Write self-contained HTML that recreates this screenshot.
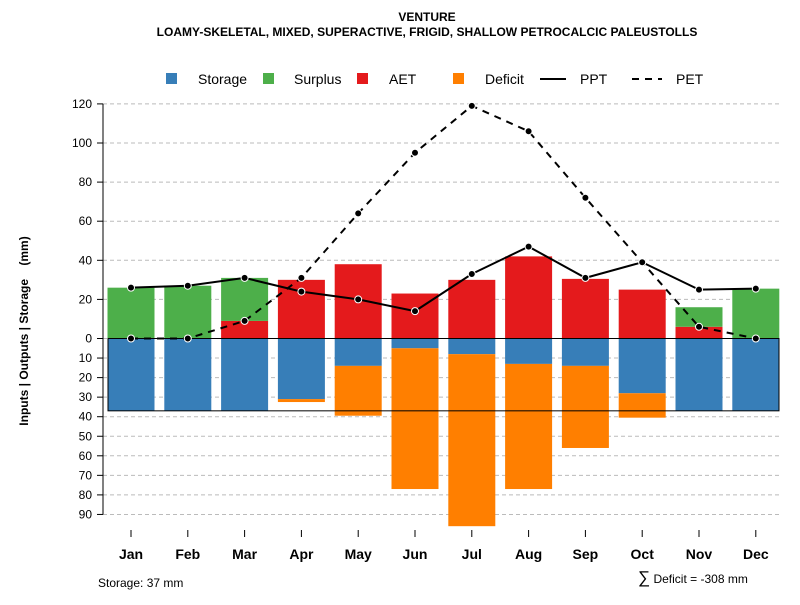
<!DOCTYPE html>
<html><head><meta charset="utf-8"><style>
body{margin:0;background:#fff;font-family:"Liberation Sans",sans-serif}
</style></head><body>
<svg id="c" width="800" height="600" xmlns="http://www.w3.org/2000/svg" font-family="Liberation Sans, sans-serif">
<text x="427" y="21" text-anchor="middle" font-size="12" font-weight="bold">VENTURE</text>
<text x="427" y="36" text-anchor="middle" font-size="12" font-weight="bold">LOAMY-SKELETAL, MIXED, SUPERACTIVE, FRIGID, SHALLOW PETROCALCIC PALEUSTOLLS</text>
<g id="legend" font-size="14">
<rect x="166" y="73" width="11" height="11" fill="#377eb8"/>
<text x="198" y="84">Storage</text>
<rect x="263" y="73" width="11" height="11" fill="#4daf4a"/>
<text x="294" y="84">Surplus</text>
<rect x="357" y="73" width="11" height="11" fill="#e41a1c"/>
<text x="389" y="84">AET</text>
<rect x="453" y="73" width="11" height="11" fill="#ff7f00"/>
<text x="485" y="84">Deficit</text>
<line x1="540" y1="79" x2="566" y2="79" stroke="#000" stroke-width="2"/>
<text x="580" y="84">PPT</text>
<line x1="632" y1="79" x2="662" y2="79" stroke="#000" stroke-width="2" stroke-dasharray="7,6"/>
<text x="676" y="84">PET</text>
</g>
<text transform="translate(28,331) rotate(-90)" text-anchor="middle" font-size="12" font-weight="bold" xml:space="preserve" style="white-space:pre">Inputs | Outputs | Storage    (mm)</text>
<text x="98" y="587" font-size="12">Storage: 37 mm</text>
<text x="638" y="583" font-size="12"><tspan font-size="17">∑</tspan> Deficit = -308 mm</text>
<g id="plot"></g>
</svg>
<script>
const months=["Jan","Feb","Mar","Apr","May","Jun","Jul","Aug","Sep","Oct","Nov","Dec"];
const storage=[37,37,37,31,14,5,8,13,14,28,37,37];
const deficit=[0,0,0,1.5,25.5,72,88,64,42,12.5,0,0];
const aet=[0,0,9,30,38,23,30,42,30.5,25,6,0];
const surplus=[26,27,22,0,0,0,0,0,0,0,10,25.5];
const ppt=[26,27,31,24,20,14,33,47,31,39,25,25.5];
const pet=[0,0,9,31,64,95,119,106,72,39,6,0];
const posTicks=[0,20,40,60,80,100,120];
const negTicks=[10,20,30,40,50,60,70,80,90];
const storageCap=37;
const NS="http://www.w3.org/2000/svg";
const g=document.getElementById('plot');
const y0=338.5,k=1.955;
const yUp=v=>y0-v*k, yDn=v=>y0+v*k;
const xC=i=>131+i*56.8;
const bw=47;
function el(t,a){const e=document.createElementNS(NS,t);for(const n in a)e.setAttribute(n,a[n]);g.appendChild(e);return e;}
posTicks.forEach(t=>{
 const l=el('line',{x1:103,x2:780,y1:yUp(t),y2:yUp(t),stroke:'#bbb','stroke-dasharray':'4,3'});
 
 const tk=el('line',{x1:97,x2:103,y1:yUp(t),y2:yUp(t),stroke:'#000'});
 
 const tx=el('text',{x:92,y:yUp(t)+4,'text-anchor':'end','font-size':12});tx.textContent=t;
 
});
negTicks.forEach(t=>{
 const l=el('line',{x1:103,x2:780,y1:yDn(t),y2:yDn(t),stroke:'#bbb','stroke-dasharray':'4,3'});
 
 const tk=el('line',{x1:97,x2:103,y1:yDn(t),y2:yDn(t),stroke:'#000'});
 
 const tx=el('text',{x:92,y:yDn(t)+4,'text-anchor':'end','font-size':12});tx.textContent=t;
 
});
const ax=el('line',{x1:103,x2:103,y1:yUp(120),y2:yDn(90),stroke:'#000'});

months.forEach((m,i)=>{
 const x=xC(i)-bw/2;
 const s=el('rect',{x:x,y:y0,width:bw,height:storage[i]*k,fill:'#377eb8'});
 
 if(deficit[i]>0){const d=el('rect',{x:x,y:yDn(storage[i]),width:bw,height:deficit[i]*k,fill:'#ff7f00'});
 }
 if(aet[i]>0){const a=el('rect',{x:x,y:yUp(aet[i]),width:bw,height:aet[i]*k,fill:'#e41a1c'});
 }
 if(surplus[i]>0){const su=el('rect',{x:x,y:yUp(aet[i]+surplus[i]),width:bw,height:surplus[i]*k,fill:'#4daf4a'});
 }
 const tk=el('line',{x1:xC(i),x2:xC(i),y1:530,y2:537,stroke:'#000'});
 
 const tx=el('text',{x:xC(i),y:559,'text-anchor':'middle','font-size':14,'font-weight':'bold'});tx.textContent=m;
 
});
const box=el('rect',{x:108,y:y0,width:671,height:storageCap*k,fill:'none',stroke:'#000','stroke-width':1});

const pl=el('polyline',{points:ppt.map((v,i)=>xC(i)+','+yUp(v)).join(' '),fill:'none',stroke:'#000','stroke-width':2});

const el2=el('polyline',{points:pet.map((v,i)=>xC(i)+','+yUp(v)).join(' '),fill:'none',stroke:'#000','stroke-width':2,'stroke-dasharray':'7,6'});

[ppt,pet].forEach((arr,j)=>arr.forEach((v,i)=>{
 const c=el('circle',{cx:xC(i),cy:yUp(v),r:3.5,fill:'#000',stroke:'#fff','stroke-width':1});
 
}));
</script>
</body></html>
